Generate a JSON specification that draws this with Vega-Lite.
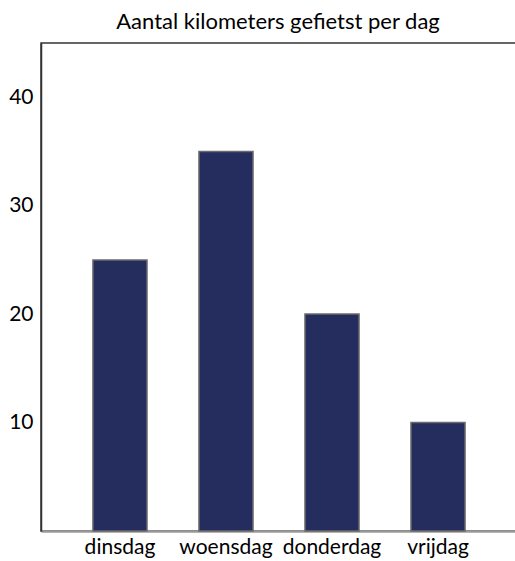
{
  "$schema": "https://vega.github.io/schema/vega-lite/v6.json",
  "autosize": {"type": "none"},
  "width": 478,
  "height": 488,
  "padding": {"left": 41, "top": 43, "right": 0, "bottom": 30},
  "background": "white",
  "title": {
    "text": "Aantal kilometers gefietst per dag",
    "font": "Lato",
    "fontSize": 22,
    "fontWeight": "normal",
    "color": "#000",
    "anchor": "middle",
    "offset": 9,
    "dx": -2
  },
  "config": {
    "view": {"stroke": "#333", "strokeWidth": 1.5},
    "axis": {"labelFont": "Lato", "labelColor": "#000", "labelFontSize": 21, "grid": false, "ticks": false, "title": null}
  },
  "data": {
    "values": [
      {"dag": "dinsdag", "km": 25},
      {"dag": "woensdag", "km": 35},
      {"dag": "donderdag", "km": 20},
      {"dag": "vrijdag", "km": 10}
    ]
  },
  "mark": {"type": "bar", "color": "#252d5e", "stroke": "#6b6b6b", "strokeWidth": 1.5},
  "encoding": {
    "x": {
      "field": "dag",
      "type": "nominal",
      "sort": null,
      "scale": {"paddingInner": 0.49, "paddingOuter": 0.49, "range": [0, 476]},
      "axis": {"labelAngle": 0, "labelPadding": 5, "domainColor": "#9a9a9a", "domainWidth": 2.5}
    },
    "y": {
      "field": "km",
      "type": "quantitative",
      "scale": {"domain": [0, 45], "nice": false},
      "axis": {"values": [10, 20, 30, 40], "labelPadding": 8, "domainColor": "#333", "domainWidth": 1.5}
    }
  }
}
